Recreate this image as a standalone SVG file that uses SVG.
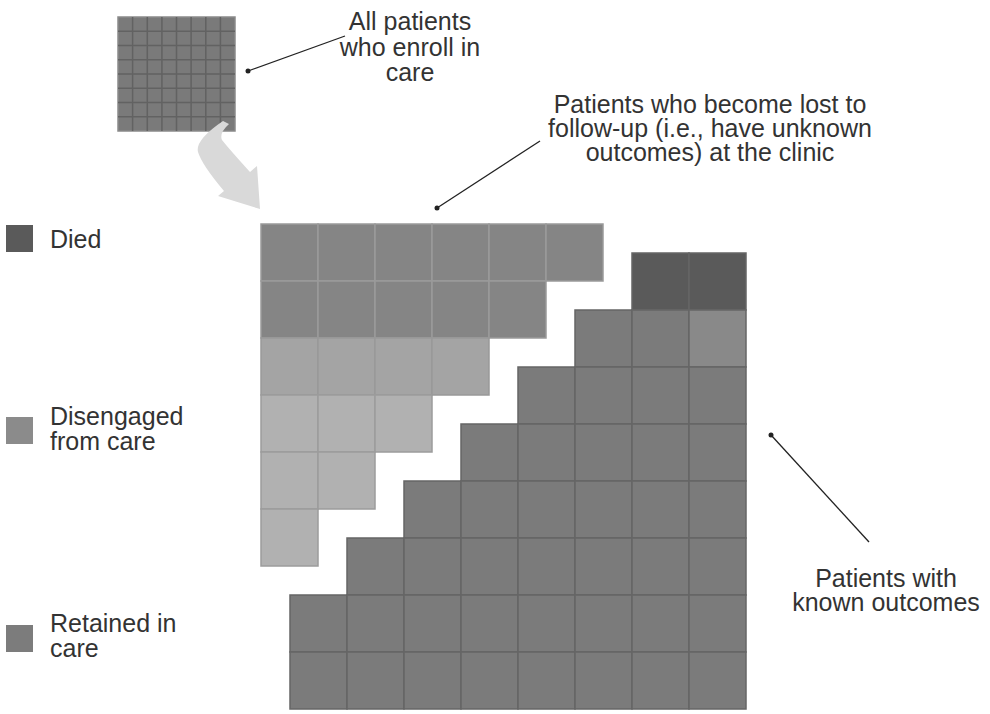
<svg xmlns="http://www.w3.org/2000/svg" width="990" height="714" viewBox="0 0 990 714">
<style>
text{font-family:"Liberation Sans",Arial,sans-serif;font-size:25px;fill:#333}
.c{text-anchor:middle}
.lt{fill:#858585;stroke:#9a9a9a;stroke-width:1.5}
.l1{fill:#a4a4a4;stroke:#999;stroke-width:1.5}
.l2{fill:#b1b1b1;stroke:#9c9c9c;stroke-width:1.5}
.k{fill:#7b7b7b;stroke:#666;stroke-width:1.5}
.kd{fill:#5a5a5a;stroke:#666;stroke-width:1.5}
.kl{fill:#898989;stroke:#666;stroke-width:1.5}
.ld{stroke:#222;stroke-width:1.3;fill:none}
.dot{fill:#222}
</style>
<rect width="990" height="714" fill="#fff"/>

<g id="enrolled-grid">
<rect x="118" y="17" width="117" height="114" fill="#7a7a7a" stroke="#8a8a8a" stroke-width="1.5"/>
<path d="M132.6 17V131M147.3 17V131M161.9 17V131M176.5 17V131M191.1 17V131M205.8 17V131M220.4 17V131M118 31.3H235M118 45.5H235M118 59.8H235M118 74H235M118 88.3H235M118 102.5H235M118 116.8H235" stroke="#626262" stroke-width="1.5" fill="none"/>
</g>

<g id="flow-arrow">
<path d="M223 121Q195 140 198 152Q202 165 224 191L218 196L260 209L257 166L250 172Q230 150 222 140Q219 133 229 124Z" fill="#d9d9d9"/>
</g>

<g id="lost-grid">
<rect class="lt" x="261" y="224" width="57" height="57"/><rect class="lt" x="318" y="224" width="57" height="57"/><rect class="lt" x="375" y="224" width="57" height="57"/><rect class="lt" x="432" y="224" width="57" height="57"/><rect class="lt" x="489" y="224" width="57" height="57"/><rect class="lt" x="546" y="224" width="57" height="57"/>
<rect class="lt" x="261" y="281" width="57" height="57"/><rect class="lt" x="318" y="281" width="57" height="57"/><rect class="lt" x="375" y="281" width="57" height="57"/><rect class="lt" x="432" y="281" width="57" height="57"/><rect class="lt" x="489" y="281" width="57" height="57"/>
<rect class="l1" x="261" y="338" width="57" height="57"/><rect class="l1" x="318" y="338" width="57" height="57"/><rect class="l1" x="375" y="338" width="57" height="57"/><rect class="l1" x="432" y="338" width="57" height="57"/>
<rect class="l2" x="261" y="395" width="57" height="57"/><rect class="l2" x="318" y="395" width="57" height="57"/><rect class="l2" x="375" y="395" width="57" height="57"/>
<rect class="l2" x="261" y="452" width="57" height="57"/><rect class="l2" x="318" y="452" width="57" height="57"/>
<rect class="l2" x="261" y="509" width="57" height="57"/>
</g>

<g id="known-grid">
<rect class="kd" x="632" y="253" width="57" height="57"/><rect class="kd" x="689" y="253" width="57" height="57"/>
<rect class="k" x="575" y="310" width="57" height="57"/><rect class="k" x="632" y="310" width="57" height="57"/><rect class="kl" x="689" y="310" width="57" height="57"/>
<rect class="k" x="518" y="367" width="57" height="57"/><rect class="k" x="575" y="367" width="57" height="57"/><rect class="k" x="632" y="367" width="57" height="57"/><rect class="k" x="689" y="367" width="57" height="57"/>
<rect class="k" x="461" y="424" width="57" height="57"/><rect class="k" x="518" y="424" width="57" height="57"/><rect class="k" x="575" y="424" width="57" height="57"/><rect class="k" x="632" y="424" width="57" height="57"/><rect class="k" x="689" y="424" width="57" height="57"/>
<rect class="k" x="404" y="481" width="57" height="57"/><rect class="k" x="461" y="481" width="57" height="57"/><rect class="k" x="518" y="481" width="57" height="57"/><rect class="k" x="575" y="481" width="57" height="57"/><rect class="k" x="632" y="481" width="57" height="57"/><rect class="k" x="689" y="481" width="57" height="57"/>
<rect class="k" x="347" y="538" width="57" height="57"/><rect class="k" x="404" y="538" width="57" height="57"/><rect class="k" x="461" y="538" width="57" height="57"/><rect class="k" x="518" y="538" width="57" height="57"/><rect class="k" x="575" y="538" width="57" height="57"/><rect class="k" x="632" y="538" width="57" height="57"/><rect class="k" x="689" y="538" width="57" height="57"/>
<rect class="k" x="290" y="595" width="57" height="57"/><rect class="k" x="347" y="595" width="57" height="57"/><rect class="k" x="404" y="595" width="57" height="57"/><rect class="k" x="461" y="595" width="57" height="57"/><rect class="k" x="518" y="595" width="57" height="57"/><rect class="k" x="575" y="595" width="57" height="57"/><rect class="k" x="632" y="595" width="57" height="57"/><rect class="k" x="689" y="595" width="57" height="57"/>
<rect class="k" x="290" y="652" width="57" height="57"/><rect class="k" x="347" y="652" width="57" height="57"/><rect class="k" x="404" y="652" width="57" height="57"/><rect class="k" x="461" y="652" width="57" height="57"/><rect class="k" x="518" y="652" width="57" height="57"/><rect class="k" x="575" y="652" width="57" height="57"/><rect class="k" x="632" y="652" width="57" height="57"/><rect class="k" x="689" y="652" width="57" height="57"/>
</g>

<g id="label-enrolled">
<text class="c" x="410" y="30">All patients</text>
<text class="c" x="410" y="55.5">who enroll in</text>
<text class="c" x="410" y="81">care</text>
</g>
<g id="label-lost">
<text class="c" x="710" y="113">Patients who become lost to</text>
<text class="c" x="710" y="137">follow-up (i.e., have unknown</text>
<text class="c" x="710" y="161">outcomes) at the clinic</text>
</g>
<g id="label-known">
<text class="c" x="886" y="587">Patients with</text>
<text class="c" x="886" y="611">known outcomes</text>
</g>

<g id="legend-died">
<rect x="6" y="225" width="27" height="27" fill="#5a5a5a"/>
<text x="50" y="248">Died</text>
</g>
<g id="legend-disengaged">
<rect x="6" y="417" width="27" height="27" fill="#8b8b8b"/>
<text x="50" y="425">Disengaged</text>
<text x="50" y="450">from care</text>
</g>
<g id="legend-retained">
<rect x="6" y="625" width="27" height="27" fill="#7c7c7c"/>
<text x="50" y="632">Retained in</text>
<text x="50" y="657">care</text>
</g>

<g id="connectors">
<line class="ld" x1="248" y1="71" x2="345" y2="36"/>
<circle class="dot" cx="248" cy="71" r="2.5"/>
<line class="ld" x1="437" y1="208" x2="540" y2="141"/>
<circle class="dot" cx="437" cy="208" r="2.5"/>
<line class="ld" x1="771" y1="435" x2="869" y2="542"/>
<circle class="dot" cx="771" cy="435" r="2.5"/>
</g>
</svg>
